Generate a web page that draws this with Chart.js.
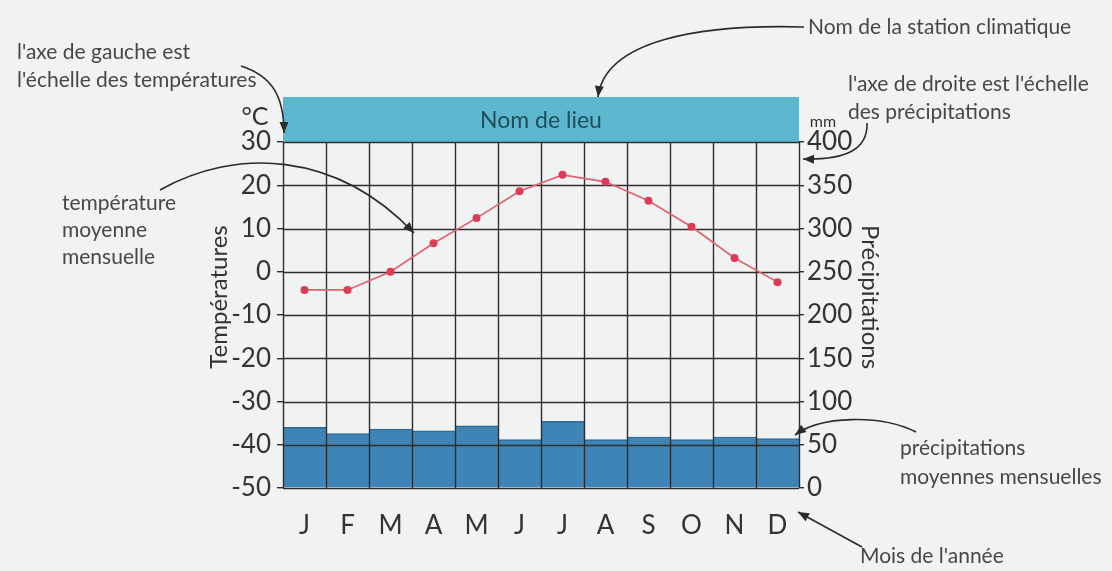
<!DOCTYPE html>
<html>
<head>
<meta charset="utf-8">
<script src="https://cdn.jsdelivr.net/npm/chart.js@4.4.1/dist/chart.umd.min.js"></script>
<style>
  body { margin: 0; background: #f1f2f2; }
  canvas { display: block; }
</style>
</head>
<body>
<canvas id="climate" width="1112" height="571"></canvas>
<script>
// Data
const months = ['J', 'F', 'M', 'A', 'M', 'J', 'J', 'A', 'S', 'O', 'N', 'D'];
const temperatures = [-4.2, -4.2, 0, 6.6, 12.4, 18.6, 22.4, 20.8, 16.4, 10.4, 3.2, -2.4];
const precipitation = [70, 63, 68, 66, 72, 56, 77, 56, 59, 56, 59, 57];
const tempTicks = [-50, -40, -30, -20, -10, 0, 10, 20, 30];
const precipTicks = [0, 50, 100, 150, 200, 250, 300, 350, 400];
const stationName = 'Nom de lieu';

const FONT = 'Lato, "Open Sans", sans-serif';
const INK = '#333333';
const NOTE = '#474747';
const GRID = '#2e2e2e';

// Helpers
function arrowHead(ctx, x, y, angle) {
  const len = 11, half = 4.5;
  ctx.save();
  ctx.translate(x, y);
  ctx.rotate(angle);
  ctx.beginPath();
  ctx.moveTo(0, 0);
  ctx.lineTo(-len, -half);
  ctx.lineTo(-len, half);
  ctx.closePath();
  ctx.fill();
  ctx.restore();
}

function curvedArrow(ctx, p0, c1, c2, p1) {
  ctx.beginPath();
  ctx.moveTo(p0[0], p0[1]);
  ctx.bezierCurveTo(c1[0], c1[1], c2[0], c2[1], p1[0], p1[1]);
  ctx.stroke();
  arrowHead(ctx, p1[0], p1[1], Math.atan2(p1[1] - c2[1], p1[0] - c2[0]));
}

function straightArrow(ctx, p0, p1) {
  ctx.beginPath();
  ctx.moveTo(p0[0], p0[1]);
  ctx.lineTo(p1[0], p1[1]);
  ctx.stroke();
  arrowHead(ctx, p1[0], p1[1], Math.atan2(p1[1] - p0[1], p1[0] - p0[0]));
}

function rotatedText(ctx, text, x, y, angle) {
  ctx.save();
  ctx.translate(x, y);
  ctx.rotate(angle);
  ctx.fillText(text, 0, 0);
  ctx.restore();
}

// Page background + station band above the plot
const bandPlugin = {
  id: 'band',
  beforeDraw(chart) {
    const { ctx, chartArea } = chart;
    ctx.save();
    ctx.fillStyle = '#f1f2f2';
    ctx.fillRect(0, 0, chart.width, chart.height);
    ctx.fillStyle = '#5db8cf';
    ctx.fillRect(chartArea.left, 97, chartArea.right - chartArea.left, chartArea.top - 97);
    ctx.fillStyle = '#1f4d5c';
    ctx.font = '23px ' + FONT;
    ctx.textAlign = 'center';
    ctx.textBaseline = 'middle';
    ctx.fillText(stationName, (chartArea.left + chartArea.right) / 2, (97 + chartArea.top) / 2 + 1);
    ctx.restore();
  }
};

// Grid drawn over the bars but under the temperature line
const gridPlugin = {
  id: 'gridOver',
  afterDatasetDraw(chart, args) {
    if (args.index !== 0) return;
    const { ctx, chartArea, scales } = chart;
    const x = scales.x, y = scales.y;
    const step = x.getPixelForValue(1) - x.getPixelForValue(0);
    ctx.save();
    ctx.strokeStyle = GRID;
    ctx.lineWidth = 1.4;
    ctx.beginPath();
    tempTicks.forEach(v => {
      const py = Math.round(y.getPixelForValue(v)) + 0.5;
      ctx.moveTo(chartArea.left, py);
      ctx.lineTo(chartArea.right, py);
    });
    for (let i = 0; i <= months.length; i++) {
      const px = Math.round(x.getPixelForValue(0) - step / 2 + i * step) + 0.5;
      ctx.moveTo(px, chartArea.top);
      ctx.lineTo(px, chartArea.bottom);
    }
    ctx.stroke();
    ctx.restore();
  }
};

// Axis titles, unit labels and explanatory notes around the chart
const notesPlugin = {
  id: 'notes',
  afterDraw(chart) {
    const { ctx, chartArea } = chart;
    const midY = (chartArea.top + chartArea.bottom) / 2 - 18;
    ctx.save();
    ctx.fillStyle = INK;
    ctx.textAlign = 'center';
    ctx.textBaseline = 'middle';
    ctx.font = '24px ' + FONT;
    rotatedText(ctx, 'Températures', chartArea.left - 64, midY, -Math.PI / 2);
    rotatedText(ctx, 'Précipitations', chartArea.right + 71, midY, Math.PI / 2);
    ctx.font = '25px ' + FONT;
    ctx.fillText('°C', chartArea.left - 28, 117);
    ctx.font = '16px ' + FONT;
    ctx.fillText('mm', chartArea.right + 24, 122);

    ctx.fillStyle = NOTE;
    ctx.textAlign = 'left';
    ctx.font = '21px ' + FONT;
    const notes = [
      ["l'axe de gauche est", 17, 52],
      ["l'échelle des températures", 17, 80],
      ['Nom de la station climatique', 808, 27],
      ["l'axe de droite est l'échelle", 848, 84],
      ['des précipitations', 848, 112],
      ['température', 62, 203],
      ['moyenne', 62, 230],
      ['mensuelle', 62, 257],
      ['précipitations', 900, 448],
      ['moyennes mensuelles', 900, 477],
      ["Mois de l'année", 860, 556]
    ];
    notes.forEach(([t, x, y]) => ctx.fillText(t, x, y));

    ctx.strokeStyle = '#2b2b2b';
    ctx.fillStyle = '#2b2b2b';
    ctx.lineWidth = 1.6;
    curvedArrow(ctx, [804, 27], [700, 24], [605, 40], [598, 97]);
    curvedArrow(ctx, [241, 66], [272, 76], [284, 96], [284, 133]);
    curvedArrow(ctx, [867, 123], [868, 150], [845, 160], [803, 159]);
    curvedArrow(ctx, [160, 190], [235, 148], [335, 150], [414, 233]);
    curvedArrow(ctx, [916, 432], [880, 414], [820, 416], [795, 435]);
    straightArrow(ctx, [862, 547], [798, 512]);
    ctx.restore();
  }
};

const tickFont = { family: FONT, size: 26 };

new Chart(document.getElementById('climate'), {
  data: {
    labels: months,
    datasets: [
      {
        type: 'bar',
        data: precipitation,
        yAxisID: 'y1',
        order: 2,
        backgroundColor: '#3f84b6',
        borderColor: '#2c6a98',
        borderWidth: { top: 1.5, left: 0, right: 0, bottom: 0 },
        barPercentage: 1,
        categoryPercentage: 1
      },
      {
        type: 'line',
        data: temperatures,
        yAxisID: 'y',
        order: 1,
        borderColor: '#e2636f',
        borderWidth: 1.7,
        pointRadius: 4,
        pointBorderWidth: 0,
        pointBackgroundColor: '#dc3d55',
        tension: 0
      }
    ]
  },
  options: {
    responsive: false,
    animation: false,
    devicePixelRatio: 1,
    layout: { padding: { left: 199, right: 225, top: 142, bottom: 13 } },
    plugins: { legend: { display: false }, tooltip: { enabled: false } },
    scales: {
      x: {
        offset: true,
        grid: { display: false },
        border: { display: false },
        ticks: { font: tickFont, color: INK, padding: 14, maxRotation: 0 },
        afterFit(s) { s.height = 70; }
      },
      y: {
        position: 'left',
        min: tempTicks[0],
        max: tempTicks[tempTicks.length - 1],
        afterBuildTicks(s) { s.ticks = tempTicks.map(v => ({ value: v })); },
        grid: { drawOnChartArea: false, tickLength: 6, color: GRID, lineWidth: 1.4 },
        border: { display: false },
        ticks: { font: tickFont, color: INK, padding: 6 },
        afterFit(s) { s.width = 84; }
      },
      y1: {
        position: 'right',
        min: precipTicks[0],
        max: precipTicks[precipTicks.length - 1],
        afterBuildTicks(s) { s.ticks = precipTicks.map(v => ({ value: v })); },
        grid: { drawOnChartArea: false, tickLength: 5, color: GRID, lineWidth: 1.4 },
        border: { display: false },
        ticks: { font: tickFont, color: INK, padding: 3 },
        afterFit(s) { s.width = 88; }
      }
    }
  },
  plugins: [bandPlugin, gridPlugin, notesPlugin]
});
</script>
</body>
</html>
